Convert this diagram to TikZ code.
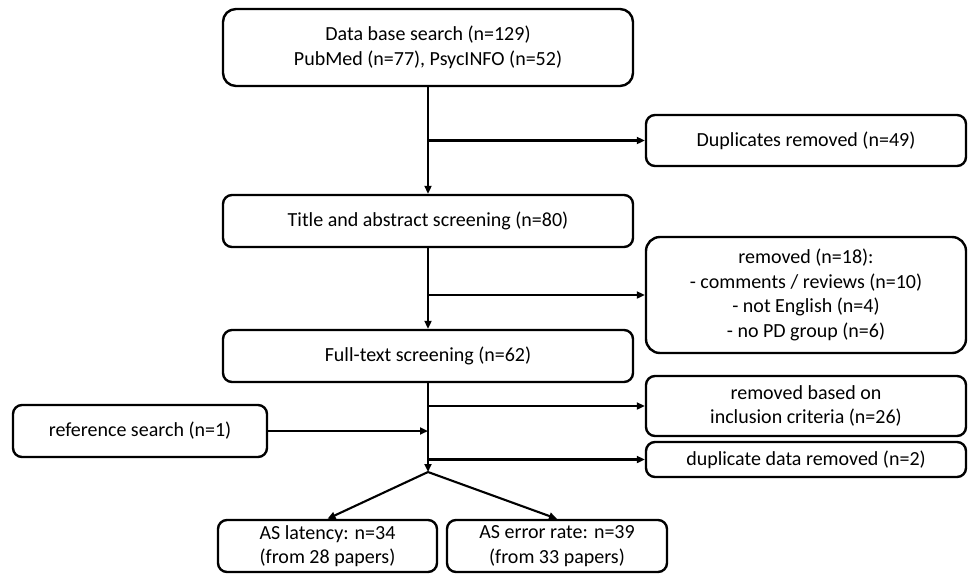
\documentclass[tikz,border=0pt]{standalone}
\usepackage{fontspec}
\setmainfont{Carlito}
\usetikzlibrary{arrows.meta}
\tikzset{
  box/.style={draw, line width=2.4pt, rounded corners=9pt, align=center, inner sep=0pt,
    font=\fontsize{20pt}{24.5pt}\selectfont},
  arr/.style={line width=2.1pt, -{Triangle[length=8pt,width=7pt]}}
}
\begin{document}
\begin{tikzpicture}[x=1pt,y=-1pt]
\useasboundingbox (0,0) rectangle (968,573);
\fill[white] (0,0) rectangle (968,573);
% main column
\node[box, rounded corners=13pt, minimum width=410pt, minimum height=77pt] (db) at (428,47.5)
  {Data base search (n=129)\\PubMed (n=77), PsycINFO (n=52)};
\node[box, minimum width=410pt, minimum height=52pt] (title) at (428,221)
  {Title and abstract screening (n=80)};
\node[box, minimum width=410pt, minimum height=52pt] (full) at (428,356)
  {Full-text screening (n=62)};
% right column
\node[box, minimum width=320pt, minimum height=51pt] (dup) at (806,140.5)
  {Duplicates removed (n=49)};
\node[box, rounded corners=14pt, minimum width=320pt, minimum height=116pt] (rem) at (806,295)
  {removed (n=18):\\- comments / reviews (n=10)\\- not English (n=4)\\- no PD group (n=6)};
\node[box, minimum width=320pt, minimum height=60pt] (crit) at (806,406)
  {removed based on\\inclusion criteria (n=26)};
\node[box, minimum width=320pt, minimum height=35pt] (dupd) at (806,459.5)
  {duplicate data removed (n=2)};
% left
\node[box, minimum width=254pt, minimum height=52pt] (ref) at (140,431)
  {reference search (n=1)};
% bottom
\node[box, minimum width=219pt, minimum height=52pt] (lat) at (327.5,546)
  {AS latency: n=34\\(from 28 papers)};
\node[box, minimum width=220pt, minimum height=52pt] (err) at (557,546)
  {AS error rate: n=39\\(from 33 papers)};
% connectors
\coordinate (b1) at (db.south |- dup.west);
\coordinate (b2) at (db.south |- rem.west);
\coordinate (b3) at (db.south |- crit.west);
\coordinate (b4) at (db.south |- dupd.west);
\coordinate (sp) at (428,472);
\draw[arr] (db.south) -- (title.north);
\draw[arr] (b1) -- (dup.west);
\draw[arr] (title.south) -- (full.north);
\draw[arr] (b2) -- (rem.west);
\draw[arr] (full.south) -- (sp);
\draw[arr] (b3) -- (crit.west);
\draw[arr] (b4) -- (dupd.west);
\draw[arr] (ref.east) -- (ref.east -| sp);
\draw[arr] (sp) -- (lat.north);
\draw[arr] (sp) -- (err.north);
\end{tikzpicture}
\end{document}
